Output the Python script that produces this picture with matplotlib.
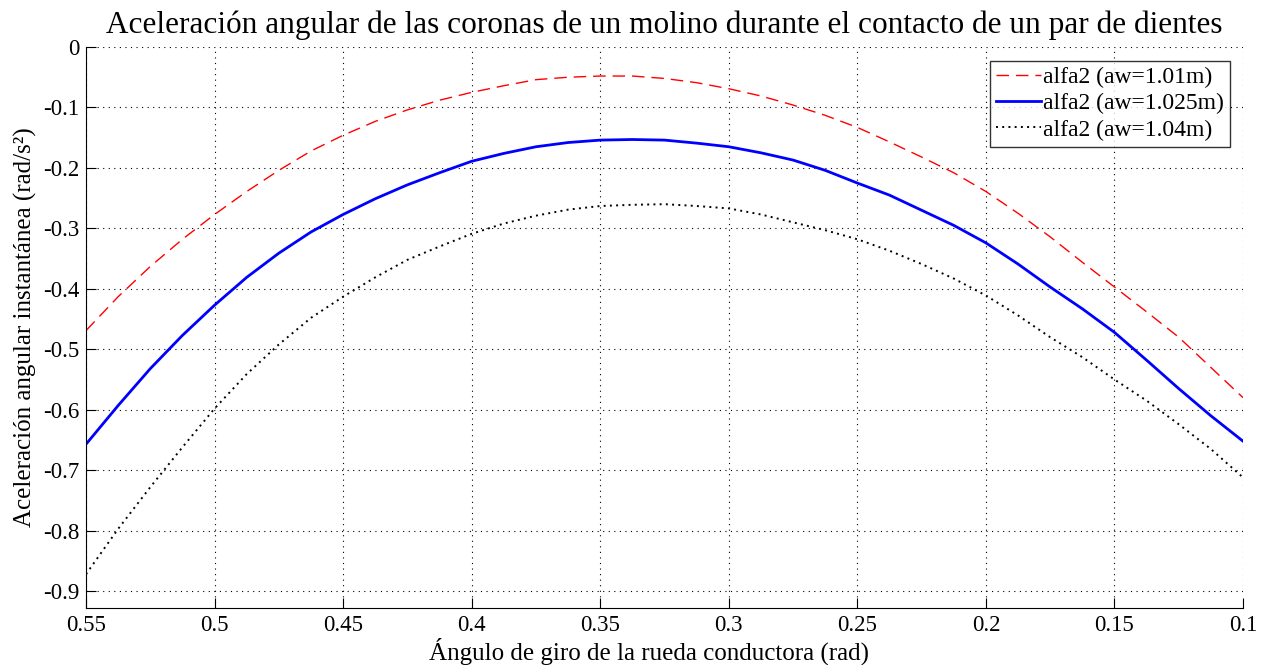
import numpy as np
import matplotlib.pyplot as plt

plt.rcParams['font.family'] = ['Liberation Serif', 'DejaVu Serif']

# angle of the driving wheel (rad), read every 0.0125
angulo = [0.55, 0.5375, 0.525, 0.5125, 0.5, 0.4875, 0.475, 0.4625, 0.45, 0.4375,
          0.425, 0.4125, 0.4, 0.3875, 0.375, 0.3625, 0.35, 0.3375, 0.325, 0.3125,
          0.3, 0.2875, 0.275, 0.2625, 0.25, 0.2375, 0.225, 0.2125, 0.2, 0.1875,
          0.175, 0.1625, 0.15, 0.1375, 0.125, 0.1125, 0.1]

# angular acceleration readings (rad/s^2)
alfa_101 = [-0.469, -0.413, -0.363, -0.318, -0.277, -0.239, -0.204, -0.172, -0.146, -0.123,
            -0.104, -0.088, -0.075, -0.064, -0.054, -0.05, -0.048, -0.048, -0.052, -0.059,
            -0.069, -0.081, -0.096, -0.113, -0.133, -0.157, -0.182, -0.208, -0.239, -0.275,
            -0.314, -0.356, -0.397, -0.438, -0.48, -0.53, -0.58]
alfa_1025 = [-0.657, -0.593, -0.532, -0.477, -0.427, -0.381, -0.341, -0.306, -0.277, -0.251,
             -0.228, -0.208, -0.189, -0.176, -0.165, -0.158, -0.154, -0.153, -0.154, -0.159,
             -0.165, -0.175, -0.187, -0.204, -0.225, -0.245, -0.27, -0.295, -0.324, -0.359,
             -0.397, -0.433, -0.472, -0.518, -0.565, -0.61, -0.652]
alfa_104 = [-0.872, -0.797, -0.728, -0.662, -0.598, -0.541, -0.492, -0.448, -0.413, -0.381,
            -0.352, -0.33, -0.309, -0.292, -0.279, -0.269, -0.263, -0.261, -0.26, -0.263,
            -0.267, -0.277, -0.29, -0.303, -0.318, -0.337, -0.359, -0.383, -0.411, -0.444,
            -0.48, -0.513, -0.55, -0.585, -0.624, -0.665, -0.712]

labels = ['alfa2 (aw=1.01m)', 'alfa2 (aw=1.025m)', 'alfa2 (aw=1.04m)']

fig = plt.figure(figsize=(12.69, 6.65), dpi=100)
ax = fig.add_axes([0.0678, 0.0857, 0.9117, 0.8436])

ax.plot(angulo, alfa_101, color='#ff0000', lw=1.0, dashes=(9, 5), label=labels[0])
ax.plot(angulo, alfa_1025, '-', color='#0000ff', lw=2.0, label=labels[1])
ax.plot(angulo, alfa_104, color='black', lw=1.4, linestyle=(0, (1, 2.2)), label=labels[2])

ax.set_xlim(0.55, 0.1)
ax.set_ylim(-0.928, 0)
ax.set_xticks(np.arange(0.55, 0.09, -0.05))
ax.set_xticklabels(['0.55', '0.5', '0.45', '0.4', '0.35', '0.3', '0.25', '0.2', '0.15', '0.1'])
ax.set_yticks(np.arange(0, -0.91, -0.1))
ax.set_yticklabels(['0', '-0.1', '-0.2', '-0.3', '-0.4', '-0.5', '-0.6', '-0.7', '-0.8', '-0.9'])

ax.grid(True, color='black', linestyle=(0, (1, 4)), lw=0.8)
ax.spines['top'].set_visible(False)
ax.spines['right'].set_visible(False)
ax.tick_params(direction='in', length=7, labelsize=16.5, pad=5)

ax.set_title('Aceleración angular de las coronas de un molino durante el contacto de un par de dientes',
             fontsize=22.5, pad=10)
ax.set_xlabel('Ángulo de giro de la rueda conductora (rad)', fontsize=18, labelpad=0)
ax.xaxis.set_label_coords(0.487, -0.053)
ax.set_ylabel('Aceleración angular instantánea (rad/s²)', fontsize=18, labelpad=4)

leg = ax.legend(loc='upper right', bbox_to_anchor=(0.995, 0.988), fontsize=17,
                frameon=True, fancybox=False, edgecolor='black', handlelength=1.9,
                handletextpad=0.1, borderpad=0.25, labelspacing=0.2, borderaxespad=0.3)
leg.get_frame().set_linewidth(1.0)

fig.savefig('out.png', dpi=100)
